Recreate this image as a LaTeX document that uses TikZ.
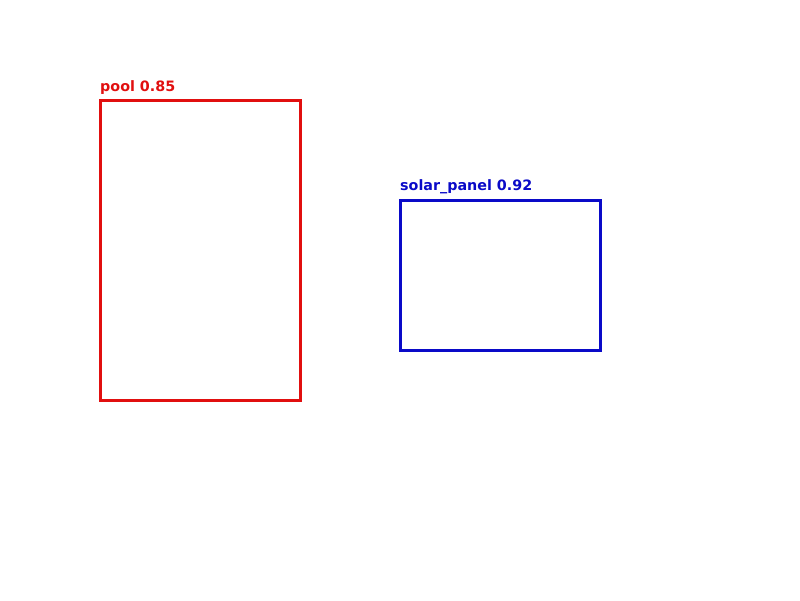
\documentclass[tikz,border=0pt]{standalone}
\usepackage{fontspec}
\setmainfont{DejaVu Sans}
\definecolor{boxred}{RGB}{225,15,15}
\definecolor{boxblue}{RGB}{10,10,200}
\begin{document}
\begin{tikzpicture}[x=1pt,y=-1pt,
  detbox/.style={line width=3pt, line join=miter},
  detlabel/.style={anchor=base west, inner sep=0pt, font=\bfseries\fontsize{14.3}{14.3}\selectfont}]
\useasboundingbox (0,0) rectangle (800,600);
\coordinate (poolnw) at (100,100);
\coordinate (poolse) at (300,400);
\coordinate (solarnw) at (400,200);
\coordinate (solarse) at (600,350);
\draw[detbox, draw=boxred] (poolnw) rectangle (poolse);
\node[detlabel, text=boxred] (poollabel) at (100,91) {pool 0.85};
\draw[detbox, draw=boxblue] (solarnw) rectangle (solarse);
\node[detlabel, text=boxblue] (solarlabel) at (400,190) {solar\_panel 0.92};
\end{tikzpicture}
\end{document}
